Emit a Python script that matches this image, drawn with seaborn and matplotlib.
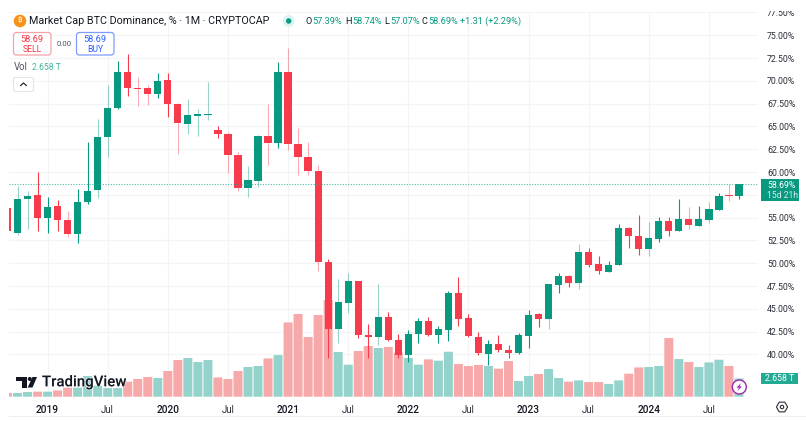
import numpy as np
import pandas as pd
import matplotlib
matplotlib.use("Agg")
import matplotlib.pyplot as plt
import seaborn as sns
from matplotlib.patches import FancyBboxPatch, Rectangle, Circle, Polygon
from matplotlib.transforms import Bbox
import matplotlib.patheffects as pe

# ---------- data (monthly, Sep 2018 .. Oct 2024) ----------
months = pd.period_range("2018-09", "2024-10", freq="M").astype(str).tolist()
opens = [56.10,53.35,57.05,57.52,55.00,56.28,54.75,53.18,56.75,58.04,63.88,67.06,70.98,69.22,69.22,68.60,70.10,67.43,65.31,66.18,66.29,64.62,64.18,61.91,58.29,59.06,63.92,63.22,70.98,63.08,61.62,60.15,50.14,42.83,45.68,48.03,42.10,41.95,44.08,41.59,39.91,42.25,43.64,42.17,42.72,46.78,43.97,41.95,40.09,41.12,40.49,40.13,42.06,44.41,43.89,47.65,48.64,47.81,51.21,49.89,49.08,49.78,53.87,52.99,51.60,52.70,54.64,53.54,54.86,54.12,54.75,55.84,57.46,57.39]
highs = [56.10,58.48,57.96,60.01,57.30,56.94,55.77,58.15,63.30,65.79,69.55,72.21,72.95,70.39,69.55,70.90,70.90,67.61,68.01,66.95,69.91,65.09,64.36,62.20,60.67,64.07,67.43,72.07,73.61,64.80,63.30,60.74,50.44,48.28,48.90,48.06,43.34,47.73,44.63,42.28,42.69,43.97,44.08,43.09,46.96,48.46,44.44,42.47,41.56,42.10,41.01,42.36,44.85,44.55,47.73,48.94,48.70,52.15,51.64,50.77,50.28,54.31,53.98,55.30,54.56,55.11,55.11,57.05,56.14,56.28,56.72,57.74,58.66,58.74]
lows = [53.57,53.14,53.79,53.51,53.32,53.54,52.88,52.23,56.53,57.19,61.69,66.90,68.38,67.25,67.32,68.09,66.07,61.98,64.14,63.96,65.71,63.74,59.93,57.96,57.24,58.40,60.81,62.67,62.42,59.65,59.65,49.19,39.65,41.29,44.58,41.81,39.58,41.01,41.51,39.62,39.18,41.29,42.03,41.29,41.51,43.16,41.92,39.94,38.81,40.27,39.62,40.09,40.71,42.98,42.83,46.78,47.40,47.18,49.56,48.86,49.05,49.78,51.68,50.94,50.83,52.30,53.03,53.51,53.73,54.09,54.39,55.84,56.83,57.07]
closes = [53.57,57.05,57.38,55.00,56.17,54.75,53.18,56.72,57.96,63.88,67.06,70.98,69.19,69.11,68.56,69.99,67.43,65.42,66.29,66.37,66.37,64.18,61.91,58.29,59.10,63.96,63.22,70.98,63.08,61.69,60.15,50.17,42.76,45.76,48.03,42.17,41.92,44.08,41.59,39.98,42.21,43.64,42.14,42.76,46.78,43.92,42.00,40.16,41.12,40.49,40.16,42.10,44.36,43.89,47.73,48.64,47.87,51.21,49.81,49.19,49.81,53.87,53.03,51.57,52.74,54.64,53.54,54.86,54.20,54.86,55.95,57.41,57.41,58.69]
volumes = [0.54,0.54,0.68,0.73,0.73,0.91,1.31,1.31,3.01,1.60,1.26,1.26,2.18,2.57,2.86,2.72,3.73,5.33,5.62,5.04,5.33,2.80,2.57,3.73,4.31,4.46,5.56,6.05,10.79,12.01,8.67,11.86,14.04,6.49,4.65,6.64,7.36,7.07,7.22,6.39,5.62,4.65,5.42,5.23,6.53,4.75,4.46,4.60,4.46,4.07,5.18,2.28,3.01,3.30,4.02,2.72,2.18,2.37,2.13,2.13,1.84,2.37,3.34,4.25,4.31,4.46,8.52,5.47,5.04,4.31,4.98,5.37,4.46,2.658]
soft_wicks = [1,2,6,9,10,13,14,17,18,19,20,22,23,24,25,26,28,29,30,31,33,34,37,54,57,64,68,70,72]
price_ticks = [40,42.5,45,47.5,50,52.5,55,57.5,60,62.5,65,67.5,70,72.5,75,77.5]
unlabelled_prices = [57.5]
time_ticks = ["2019-01","2019-07","2020-01","2020-07","2021-01","2021-07","2022-01","2022-07","2023-01","2023-07","2024-01","2024-07"]
time_labels = ["2019","Jul","2020","Jul","2021","Jul","2022","Jul","2023","Jul","2024","Jul"]

GREEN, RED = "#089981", "#F73B4D"
GREEN_V, RED_V = "#94D3CB", "#F7A9A9"
GRID = "#F3F4F6"
INK = "#131722"
W, H = 806, 421

sns.set_theme(style="white")
plt.rcParams["font.family"] = ["Roboto", "DejaVu Sans"]

x = np.arange(len(months))
o, h, l, c = map(np.array, (opens, highs, lows, closes))
up = c >= o
df = pd.DataFrame({"month": x, "volume": volumes,
                   "direction": np.where(up, "up", "down")})

fig = plt.figure(figsize=(W / 100, H / 100), dpi=100, facecolor="white")
rect = [9 / W, 1 - 396.7 / H, 749 / W, 384.7 / H]
xlim = (0.15, 74.9)
ylim = (35.37, 77.55)

# price scale and grid
ax = fig.add_axes(rect, zorder=1)
ax.set_xlim(xlim); ax.set_ylim(ylim)
tick_x = [months.index(t) for t in time_ticks]
ax.set_xticks(tick_x, time_labels)
ax.yaxis.tick_right()
ax.set_yticks(price_ticks, ["" if p in unlabelled_prices else f"{p:.2f}%" for p in price_ticks])
ax.tick_params(axis="y", length=0, pad=6.4, labelsize=6.35, labelcolor="#2A2E39")
ax.tick_params(axis="x", length=0, pad=6.2, labelsize=6.9, labelcolor="#2A2E39")
for lab, t in zip(ax.get_xticklabels(), time_labels):
    if t != "Jul":
        lab.set_fontweight("medium"); lab.set_color(INK); lab.set_fontsize(7.3)
ax.grid(True, color=GRID, lw=0.75)
for s in ax.spines.values():
    s.set_visible(False)
top_clip = Bbox([[0, 0], [W, H - 11]])
for lab in ax.get_yticklabels():
    lab.set_clip_on(True)
    lab.set_clip_box(top_clip)

# volume pane
vax = fig.add_axes(rect, zorder=2, facecolor="none")
sns.barplot(data=df, x="month", y="volume", hue="direction",
            palette={"up": GREEN_V, "down": RED_V}, native_scale=True, dodge=False,
            width=0.9, saturation=1, linewidth=0, legend=False, ax=vax)
for patch in vax.patches:
    patch.set_snap(False)
vax.set_xlim(xlim); vax.set_ylim(0, 55.86)
vax.axis("off")

# candles
cax = fig.add_axes(rect, zorder=3, facecolor="none")
colors = np.where(up, GREEN, RED)
wick_alpha = [0.42 if i in soft_wicks else 1.0 for i in x]
for xi, lo, hi, col, a in zip(x, l, h, colors, wick_alpha):
    cax.vlines(xi, lo, hi, color=col, alpha=a, lw=0.8)
cax.bar(x, np.maximum(np.abs(c - o), 0.07), bottom=np.minimum(o, c), width=0.72,
        color=colors, linewidth=0)
cax.axhline(closes[-1], color="#22AB94", lw=0.8, ls=(0, (1, 1.4)), alpha=0.8)
cax.set_xlim(xlim); cax.set_ylim(ylim)
cax.axis("off")

# chart furniture, drawn in pixel coordinates
ov = fig.add_axes([0, 0, 1, 1], zorder=4, facecolor="none")
ov.set_xlim(0, W); ov.set_ylim(H, 0); ov.axis("off")

def txt(px, py, s, size, color=INK, ha="left", weight="normal", **kw):
    return ov.text(px, py, s, fontsize=size * 0.72, color=color, ha=ha, va="center",
                   fontweight=weight, **kw)

# header
ov.add_patch(Circle((20, 21), 6.3, color="#F7931A", lw=0))
txt(20, 21, "₿", 8, "white", ha="center", weight="bold",
    family=["Noto Sans", "Inter", "Open Sans", "Lato", "Roboto", "Liberation Sans", "DejaVu Sans"])
txt(29, 21, "Market Cap BTC Dominance, % · 1M · CRYPTOCAP", 10.8, INK)
ov.add_patch(Circle((288.7, 21), 6, color="#DDF3EF", lw=0))
ov.add_patch(Circle((288.7, 21), 2.7, color=GREEN, lw=0))
segments = [(306, "O", INK), (312, "57.39%", GREEN), (345.5, "H", INK), (352, "58.74%", GREEN),
            (384.5, "L", INK), (390, "57.07%", GREEN), (422, "C", INK), (428.5, "58.69%", GREEN),
            (460.5, "+1.31 (+2.29%)", GREEN)]
for px, s, col in segments:
    txt(px, 21, s, 9.2, col)

# sell / buy
ov.add_patch(FancyBboxPatch((13.5, 32.5), 37.5, 22.5, boxstyle="round,pad=0,rounding_size=3",
                            fc="white", ec="#F7A1A8", lw=0.9))
txt(32, 39.3, "58.69", 9.2, "#F23645", ha="center")
txt(32, 49.3, "SELL", 8.6, "#F23645", ha="center")
txt(64, 43.5, "0.00", 7.8, "#50535E", ha="center")
ov.add_patch(FancyBboxPatch((76.5, 32.5), 37.5, 22.5, boxstyle="round,pad=0,rounding_size=3",
                            fc="white", ec="#7C9CFF", lw=0.9))
txt(95, 39.3, "58.69", 9.2, "#2962FF", ha="center")
txt(95, 49.3, "BUY", 8.6, "#2962FF", ha="center")

# volume legend and collapse button
txt(13.5, 67, "Vol", 9.6, "#50535E")
txt(32, 67, "2.658 T", 8.7, "#3FB6A2")
ov.add_patch(FancyBboxPatch((13.5, 77.5), 20, 14, boxstyle="round,pad=0,rounding_size=2",
                            fc="white", ec="#E3E4E8", lw=0.8))
ov.plot([20.5, 23.5, 26.5], [85.7, 83, 85.7], color=INK, lw=0.8)

# price tag
ov.add_patch(Rectangle((761, 179), 37.5, 22, fc=GREEN, lw=0))
txt(767, 185, "58.69%", 8.8, "white")
txt(767, 195, "15d 21h", 8.6, "#D5EFEA")
ov.add_patch(Rectangle((761, 372.5), 37, 11.5, fc="#22AB94", lw=0))
txt(779.5, 378.5, "2.658 T", 8.8, "white", ha="center")

# TradingView mark
for poly in ([(16, 377), (27, 377), (27, 387.5), (22, 387.5), (22, 381), (16, 381)],
             [(32.5, 377), (37, 377), (32.5, 387.5), (27.7, 387.5)]):
    ov.add_patch(Polygon(poly, fc=INK, lw=0))
ov.add_patch(Circle((29.8, 379), 2, fc=INK, lw=0))
txt(42, 382.3, "TradingView", 15, INK, weight="medium",
    path_effects=[pe.withStroke(linewidth=1.2, foreground=(1, 1, 1, 0.6))])

# replay badge and settings icon
ov.add_patch(Circle((739.3, 387), 7, fc="white", ec="#9C27B0", lw=1))
ov.add_patch(Polygon([(741, 383), (736.5, 387.7), (739, 387.7), (737.5, 391),
                      (742, 386.4), (739.5, 386.4)], fc="#9C27B0", lw=0))
ang = np.deg2rad(np.arange(0, 360, 60))
ov.add_patch(Polygon(np.c_[782 + 5.6 * np.cos(ang), 407 + 5.6 * np.sin(ang)],
                     fc="none", ec="#2A2E39", lw=0.8))
ov.add_patch(Circle((782, 407), 1.7, fc="none", ec="#2A2E39", lw=0.8))

# bottom separator
ov.plot([9, W], [416, 416], color="#EEEFF2", lw=0.8)

fig.savefig("out.png", dpi=100, facecolor="white")
